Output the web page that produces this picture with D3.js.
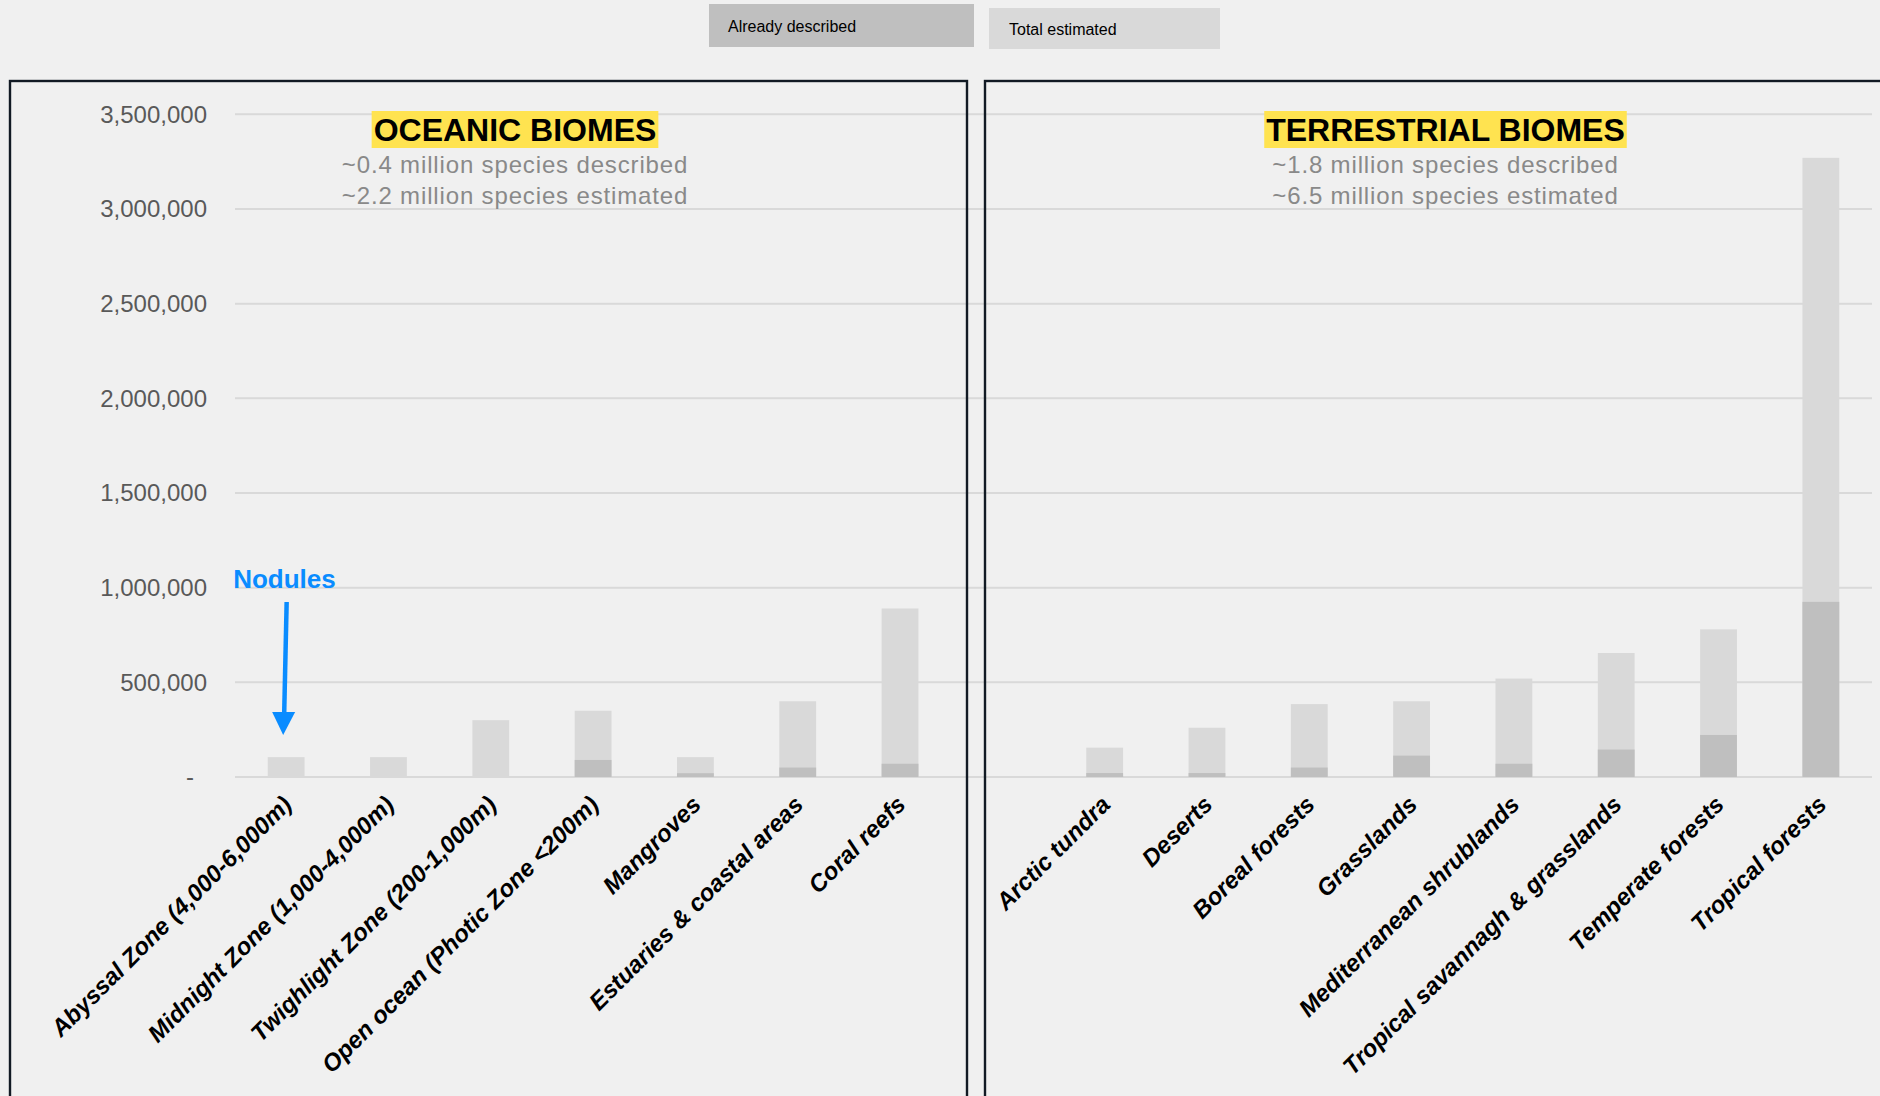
<!DOCTYPE html>
<html>
<head>
<meta charset="utf-8">
<script src="https://cdn.jsdelivr.net/npm/d3@7"></script>
<style>
  html, body { margin: 0; padding: 0; background: #f0f0f0; }
  svg { display: block; font-family: "Liberation Sans", Arial, sans-serif; }
</style>
</head>
<body>
<svg id="chart"></svg>
<script>
var width = 1880,
    height = 1096;

// oceanic biomes
var oceanCats = ["Abyssal Zone (4,000-6,000m)", "Midnight Zone (1,000-4,000m)", "Twighlight Zone (200-1,000m)",
                 "Open ocean (Photic Zone <200m)", "Mangroves", "Estuaries & coastal areas", "Coral reefs"];
var oceanTotal = [105000, 105000, 300000, 350000, 105000, 400000, 890000];
var oceanDescribed = [0, 0, 0, 90000, 20000, 50000, 70000];

// terrestrial biomes
var landCats = ["Arctic tundra", "Deserts", "Boreal forests", "Grasslands", "Mediterranean shrublands",
                "Tropical savannagh & grasslands", "Temperate forests", "Tropical forests"];
var landTotal = [155000, 260000, 385000, 400000, 520000, 655000, 780000, 3270000];
var landDescribed = [21000, 21000, 50000, 113000, 70000, 145000, 222000, 925000];

var yTicks = [0, 500000, 1000000, 1500000, 2000000, 2500000, 3000000, 3500000];
var legendLabels = ["Already described", "Total estimated"];
var panelTitles = ["OCEANIC BIOMES", "TERRESTRIAL BIOMES"];
var panelSubs = [["~0.4 million species described", "~2.2 million species estimated"],
                 ["~1.8 million species described", "~6.5 million species estimated"]];

var gapKey = " ";
var rows = oceanCats.map((c, i) => ({cat: c, total: oceanTotal[i], described: oceanDescribed[i]}))
  .concat(landCats.map((c, i) => ({cat: c, total: landTotal[i], described: landDescribed[i]})));
var domain = oceanCats.concat([gapKey], landCats);

var svg = d3.select('#chart')
            .attr('width', width)
            .attr('height', height);

var x = d3.scaleBand()
          .domain(domain)
          .range([235, 1872])
          .paddingInner(0.64)
          .paddingOuter(0.32);

var y = d3.scaleLinear()
          .domain([0, 3500000])
          .range([777, 114.3]);

// gridlines
svg.append('g')
   .selectAll('line')
   .data(yTicks)
   .enter()
   .append('line')
     .attr('x1', 235).attr('x2', 1872)
     .attr('y1', d => y(d)).attr('y2', d => y(d))
     .attr('stroke', '#d9d9d9').attr('stroke-width', 2);

// panel frames
svg.append('rect')
   .attr('x', 10).attr('y', 81).attr('width', 957).attr('height', 1100)
   .attr('fill', 'none').attr('stroke', '#121a24').attr('stroke-width', 2.4);
svg.append('rect')
   .attr('x', 985).attr('y', 81).attr('width', 1000).attr('height', 1100)
   .attr('fill', 'none').attr('stroke', '#121a24').attr('stroke-width', 2.4);

// y axis labels
var fmt = d3.format(',');
svg.append('g')
   .selectAll('text')
   .data(yTicks)
   .enter()
   .append('text')
     .attr('x', d => d === 0 ? 194 : 207)
     .attr('y', d => y(d))
     .attr('dy', '0.35em')
     .attr('text-anchor', 'end')
     .attr('fill', '#595959')
     .attr('font-size', 24)
     .text(d => d === 0 ? '-' : fmt(d));

// bars
var bars = svg.append('g');
bars.selectAll('.total')
    .data(rows)
    .enter()
    .append('rect')
      .attr('class', 'total')
      .attr('x', d => x(d.cat))
      .attr('width', x.bandwidth())
      .attr('y', d => y(d.total))
      .attr('height', d => y(0) - y(d.total))
      .attr('fill', '#d9d9d9');
bars.selectAll('.described')
    .data(rows.filter(d => d.described > 0))
    .enter()
    .append('rect')
      .attr('class', 'described')
      .attr('x', d => x(d.cat))
      .attr('width', x.bandwidth())
      .attr('y', d => y(d.described))
      .attr('height', d => y(0) - y(d.described))
      .attr('fill', '#bfbfbf');

// category labels
svg.append('g')
   .selectAll('text')
   .data(rows)
   .enter()
   .append('text')
     .attr('transform', d => 'translate(' + (x(d.cat) + x.bandwidth() / 2 + 7) + ',806) rotate(-45)')
     .attr('text-anchor', 'end')
     .attr('font-size', 24)
     .attr('font-weight', 'bold')
     .attr('font-style', 'italic')
     .attr('fill', '#000')
     .text(d => d.cat);

// panel titles
var titleX = [515, 1445.5];
panelTitles.forEach((t, i) => {
  var g = svg.append('g');
  var hl = g.append('rect').attr('fill', '#ffe350');
  var tx = g.append('text')
            .attr('x', titleX[i]).attr('y', 141)
            .attr('text-anchor', 'middle')
            .attr('font-size', 32).attr('font-weight', 'bold')
            .attr('fill', '#000')
            .text(t);
  var bb = tx.node().getBBox();
  hl.attr('x', bb.x - 2).attr('width', bb.width + 4)
    .attr('y', 111).attr('height', 37);
  panelSubs[i].forEach((s, j) => {
    g.append('text')
     .attr('x', titleX[i]).attr('y', 173 + j * 30.5)
     .attr('text-anchor', 'middle')
     .attr('font-size', 24)
     .attr('letter-spacing', 0.85)
     .attr('fill', '#898989')
     .text(s);
  });
});

// legend
var legendBoxes = [{x: 709, y: 4, w: 265, h: 43, fill: '#bfbfbf', tx: 728, ty: 32},
                   {x: 989, y: 8, w: 231, h: 41, fill: '#d9d9d9', tx: 1009, ty: 35}];
legendBoxes.forEach((b, i) => {
  svg.append('rect').attr('x', b.x).attr('y', b.y).attr('width', b.w).attr('height', b.h).attr('fill', b.fill);
  svg.append('text').attr('x', b.tx).attr('y', b.ty)
     .attr('font-size', 16).attr('fill', '#000')
     .text(legendLabels[i]);
});

// nodules annotation
var nx = x(oceanCats[0]) + x.bandwidth() / 2;
var tipY = y(oceanTotal[0]) - 22;
svg.append('text')
   .attr('x', nx - 53).attr('y', 588)
   .attr('font-size', 26).attr('font-weight', 'bold')
   .attr('fill', '#0a8cff')
   .text('Nodules');
svg.append('line')
   .attr('x1', nx + 0.5).attr('y1', 602)
   .attr('x2', nx - 2).attr('y2', tipY - 20)
   .attr('stroke', '#0a8cff').attr('stroke-width', 4.5);
svg.append('path')
   .attr('d', 'M' + (nx - 14) + ',' + (tipY - 23) + 'L' + (nx + 9) + ',' + (tipY - 23) + 'L' + (nx - 3) + ',' + tipY + 'Z')
   .attr('fill', '#0a8cff');
</script>
</body>
</html>
